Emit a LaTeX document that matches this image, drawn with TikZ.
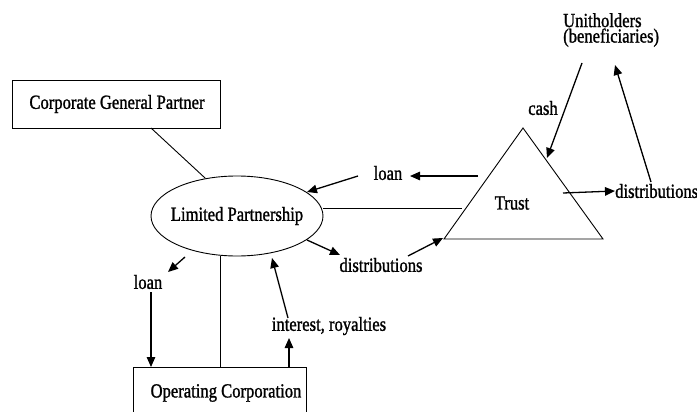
\documentclass[tikz,border=0pt]{standalone}
\usepackage{fontspec}
\setmainfont{Liberation Serif}[FakeStretch=0.83,FakeBold=1.2]
\usetikzlibrary{shapes.geometric,arrows.meta}
\begin{document}
\begin{tikzpicture}[x=1pt,y=-1pt,
  lbl/.style={inner sep=0pt,font=\fontsize{20}{15.5}\selectfont},
  boxst/.style={draw,line width=0.9pt},
  flow/.style={line width=1.3pt,-{Triangle[length=10pt,width=8.5pt]}},
  link/.style={line width=0.9pt}]
\clip (0,0) rectangle (697,412);
% boxes
\draw[boxst] (12,80) rectangle (220,128);
\node[lbl] (cgp) at (117,104) {Corporate General Partner};
\coordinate (cgpb) at (151,128);
\node[draw,ellipse,line width=0.9pt,minimum width=172pt,minimum height=80pt,inner sep=0pt] (lp) at (237,216) {};
\node[lbl] at (237,216) {Limited Partnership};
\draw[boxst] (133,367) rectangle (306,430);
\node[lbl] (oc) at (226,393) {Operating Corporation};
\coordinate (tA) at (523,128);
\coordinate (tL) at (444,239);
\coordinate (tR) at (603,239);
\draw[line width=0.9pt] (tA) -- (tL) -- (tR) -- cycle;
\node[lbl] (trust) at (512,203) {Trust};
\node[lbl,align=left,anchor=west] (unit) at (563,30) {Unitholders\\(beneficiaries)};
% labels
\node[lbl] (cash) at (543,108) {cash};
\node[lbl,anchor=west] (distR) at (615,191) {distributions};
\node[lbl] (loanT) at (388,173) {loan};
\node[lbl] (distM) at (381,265) {distributions};
\node[lbl] (loanL) at (148,282) {loan};
\node[lbl] (intr) at (329,326) {interest, royalties};
% plain links
\draw[link] (cgpb) -- (lp.130);
\draw[link] (lp.east |- 0,208) -- (462,208);
\coordinate (lpb) at (220,256);
\coordinate (ocb) at (220,367);
\draw[link] (lpb) -- (ocb);
% flows
\coordinate (c1) at (582,63); \coordinate (c2) at (547,158);
\draw[flow] (c1) -- (c2);
\coordinate (d1) at (651,182); \coordinate (d2) at (615,65);
\draw[flow] (d1) -- (d2);
\coordinate (t1) at (563,193);
\draw[flow] (t1) -- (distR.west);
\coordinate (l1) at (478,176); \coordinate (l2) at (410,176);
\draw[flow] (l1) -- (l2);
\coordinate (l3) at (358,176); \coordinate (l4) at (307,192);
\draw[flow] (l3) -- (l4);
\coordinate (m1) at (307,240); \coordinate (m2) at (340,255);
\draw[flow] (m1) -- (m2);
\coordinate (m3) at (408,256); \coordinate (m4) at (443,238);
\draw[flow] (m3) -- (m4);
\coordinate (n1) at (185,257); \coordinate (n2) at (168,272);
\draw[flow] (n1) -- (n2);
\coordinate (n3) at (151,292); \coordinate (n4) at (151,367);
\draw[flow] (n3) -- (n4);
\coordinate (o1) at (289,367); \coordinate (o2) at (289,338);
\draw[flow] (o1) -- (o2);
\coordinate (o3) at (288,318); \coordinate (o4) at (272,258);
\draw[flow] (o3) -- (o4);
\end{tikzpicture}
\end{document}
